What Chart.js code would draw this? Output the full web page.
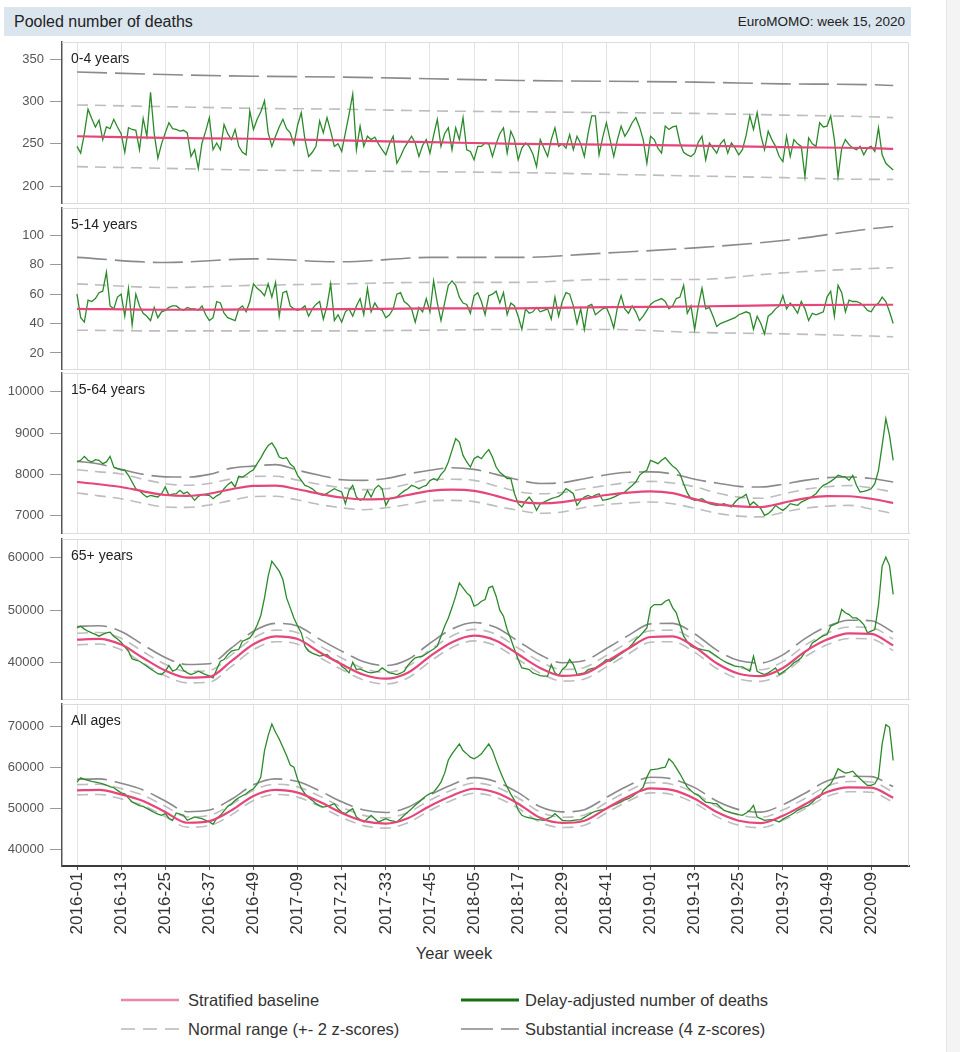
<!DOCTYPE html>
<html>
<head>
<meta charset="utf-8">
<title>Pooled number of deaths</title>
<script src="https://cdn.jsdelivr.net/npm/chart.js@4.4.1/dist/chart.umd.min.js"></script>
<style>
  html, body { margin: 0; padding: 0; background: #fff; }
  body { font-family: "Liberation Sans", Arial, sans-serif; color: #222; }
  #page { position: relative; width: 960px; height: 1052px; overflow: hidden; }
  .abs { position: absolute; white-space: nowrap; }
  #titlebar { left: 4px; top: 7px; width: 907px; height: 29px; background: #dbe5ee; }
  #title { left: 10px; top: 0; line-height: 29px; font-size: 16px; color: #222; }
  #source { right: 6px; top: 0; line-height: 29px; font-size: 13.5px; color: #222; }
  .plabel { font-size: 14px; line-height: 16px; color: #222; left: 71px; }
  #xtitle { left: 354px; width: 200px; top: 943px; line-height: 20px; font-size: 16.5px; text-align: center; color: #333; }
  .leg { font-size: 16.5px; line-height: 20px; color: #333; }
  .legline { position: absolute; }
  #stripe { left: 946px; top: 0; width: 14px; height: 1052px; background: #f4f4f4; border-left: 1px solid #e4e4e4; }
  canvas { position: absolute; left: 0; }
</style>
</head>
<body>
<div id="page">
  <div id="titlebar" class="abs">
    <div id="title" class="abs">Pooled number of deaths</div>
    <div id="source" class="abs">EuroMOMO: week 15, 2020</div>
  </div>
  <div id="xtitle" class="abs">Year week</div>

  <svg class="legline" style="left:121px;top:995px" width="58" height="10"><line x1="0" y1="5" x2="58" y2="5" stroke="#ec86a6" stroke-width="2.5"/></svg>
  <div class="abs leg" style="left:188px;top:990px">Stratified baseline</div>
  <svg class="legline" style="left:461px;top:995px" width="58" height="10"><line x1="0" y1="5" x2="58" y2="5" stroke="#157015" stroke-width="3"/></svg>
  <div class="abs leg" style="left:525px;top:990px">Delay-adjusted number of deaths</div>
  <svg class="legline" style="left:121px;top:1024px" width="58" height="10"><line x1="0" y1="5" x2="58" y2="5" stroke="#b8b8b8" stroke-width="1.5" stroke-dasharray="14 8"/></svg>
  <div class="abs leg" style="left:188px;top:1019px">Normal range (+- 2 z-scores)</div>
  <svg class="legline" style="left:461px;top:1024px" width="58" height="10"><line x1="0" y1="5" x2="58" y2="5" stroke="#888" stroke-width="1.5" stroke-dasharray="32 8 18 0"/></svg>
  <div class="abs leg" style="left:525px;top:1019px">Substantial increase (4 z-scores)</div>

  <div id="stripe" class="abs"></div>
</div>

<script>
"use strict";

// x axis: week index 0 = 2016-01 ... 222 = 2020-15
const tickWeeks = [0, 12, 24, 36, 48, 60, 72, 84, 96, 108, 120, 132, 144, 156, 168, 180, 192, 204, 216];
const tickLabels = ['2016-01', '2016-13', '2016-25', '2016-37', '2016-49', '2017-09', '2017-21', '2017-33',
    '2017-45', '2018-05', '2018-17', '2018-29', '2018-41', '2019-01', '2019-13', '2019-25', '2019-37',
    '2019-49', '2020-09'];

const flatWeeks = [0, 24, 48, 72, 96, 120, 144, 168, 192, 216, 222];
const seasonWeeks = [0, 6, 12, 18, 24, 30, 36, 42, 48, 54, 60, 66, 72, 78, 84, 90, 96, 102, 108, 114, 120,
    126, 132, 138, 144, 150, 156, 162, 168, 174, 180, 186, 192, 198, 204, 210, 216, 222];

// y ticks
const yTicks0to4 = [200, 250, 300, 350];
const yTicks5to14 = [20, 40, 60, 80, 100];
const yTicks15to64 = [7000, 8000, 9000, 10000];
const yTicks65plus = [40000, 50000, 60000];
const yTicksAll = [40000, 50000, 60000, 70000];

// 0-4 years
const deaths0to4 = [
    247, 239, 262, 291, 280, 270, 278, 255, 270, 268,
    279, 270, 262, 240, 269, 267, 266, 243, 280, 259,
    311, 262, 233, 250, 263, 275, 268, 267, 265, 266,
    263, 235, 243, 221, 251, 265, 281, 243, 251, 243,
    273, 262, 255, 267, 247, 240, 237, 289, 267, 279,
    288, 301, 263, 247, 259, 270, 279, 268, 263, 249,
    272, 287, 255, 235, 240, 247, 277, 263, 281, 265,
    247, 250, 241, 263, 285, 309, 243, 271, 247, 259,
    255, 258, 250, 243, 237, 250, 259, 227, 235, 245,
    252, 259, 251, 235, 248, 255, 239, 260, 279, 247,
    262, 269, 243, 269, 255, 281, 243, 241, 231, 247,
    247, 251, 250, 235, 250, 262, 269, 239, 265, 255,
    231, 245, 251, 247, 238, 223, 255, 245, 235, 255,
    269, 247, 250, 245, 261, 243, 259, 250, 235, 262,
    283, 283, 237, 258, 275, 255, 235, 255, 271, 259,
    266, 275, 281, 270, 255, 227, 259, 255, 245, 239,
    271, 267, 270, 271, 251, 240, 237, 235, 239, 252,
    259, 231, 251, 245, 239, 250, 255, 239, 251, 245,
    237, 243, 260, 283, 267, 287, 260, 243, 265, 255,
    247, 235, 229, 259, 235, 255, 250, 247, 211, 257,
    250, 247, 275, 270, 271, 283, 255, 211, 245, 255,
    249, 245, 243, 247, 237, 245, 247, 241, 269, 237,
    227, 223, 219];
const base0to4 = [259, 257, 256, 254, 252, 250, 249, 248, 246, 245, 244];
const normHi0to4 = [296, 294, 292, 291, 289, 288, 287, 286, 284, 282, 281];
const normLo0to4 = [223, 221, 219, 218, 217, 216, 214, 212, 210, 208, 208];
const subst0to4 = [335, 332, 330, 329, 327, 325, 324, 323, 321, 320, 319];

// 5-14 years
const deaths5to14 = [
    60, 44, 41, 56, 55, 57, 61, 62, 75, 52,
    50, 58, 60, 45, 64, 39, 60, 52, 47, 45,
    42, 51, 44, 48, 49, 51, 52, 52, 50, 49,
    51, 50, 50, 49, 52, 46, 42, 44, 55, 54,
    47, 44, 43, 42, 50, 52, 48, 55, 67, 64,
    62, 59, 67, 58, 68, 45, 61, 62, 52, 50,
    49, 50, 52, 45, 50, 53, 55, 43, 52, 67,
    42, 46, 41, 48, 50, 45, 52, 57, 46, 64,
    48, 54, 50, 49, 44, 46, 50, 60, 61, 55,
    53, 50, 41, 51, 48, 57, 48, 69, 54, 42,
    54, 66, 69, 66, 58, 54, 53, 47, 59, 61,
    55, 46, 59, 60, 62, 54, 61, 46, 54, 52,
    45, 36, 50, 47, 48, 51, 48, 49, 50, 43,
    58, 45, 55, 61, 60, 52, 40, 50, 36, 52,
    53, 46, 48, 50, 51, 45, 37, 51, 59, 50,
    47, 52, 48, 42, 45, 49, 53, 55, 56, 57,
    55, 50, 52, 57, 58, 66, 47, 52, 36, 52,
    64, 50, 51, 45, 38, 40, 41, 42, 43, 44,
    46, 47, 48, 47, 36, 45, 40, 33, 45, 47,
    50, 52, 59, 50, 54, 51, 47, 55, 50, 42,
    47, 46, 47, 48, 58, 62, 45, 66, 61, 48,
    56, 55, 55, 54, 52, 49, 48, 52, 54, 58,
    55, 48, 40];
const base5to14 = [50, 49.4, 49.6, 49.8, 50.3, 50.4, 51.2, 51.6, 52.5, 52.8, 52.8];
const normHi5to14 = [67, 64.5, 66, 67, 68, 68, 70, 70, 74.5, 77.5, 78];
const normLo5to14 = [35.5, 35, 35, 35, 35.5, 36, 36, 34, 33, 31.5, 31];
const subst5to14 = [85, 81.5, 84, 82, 85, 85, 88, 91.5, 96.5, 104.5, 106];

// 15-64 years
const deaths15to64 = [
    8298, 8339, 8435, 8340, 8298, 8355, 8339, 8258, 8300, 8435,
    8177, 8137, 8110, 8097, 7976, 7815, 7653, 7600, 7520, 7452,
    7492, 7470, 7452, 7532, 7694, 7492, 7520, 7532, 7613, 7532,
    7573, 7480, 7371, 7468, 7516, 7500, 7492, 7411, 7480, 7532,
    7653, 7750, 7815, 7694, 7952, 7935, 7990, 8056, 8113, 8258,
    8400, 8560, 8701, 8758, 8621, 8419, 8379, 8403, 8250, 8177,
    7976, 7855, 7734, 7700, 7650, 7573, 7516, 7492, 7540, 7597,
    7653, 7610, 7573, 7291, 7613, 7734, 7450, 7371, 7411, 7613,
    7452, 7650, 7734, 7650, 7250, 7411, 7430, 7452, 7532, 7600,
    7653, 7734, 7700, 7653, 7700, 7734, 7850, 7895, 7855, 8000,
    8097, 8298, 8580, 8862, 8782, 8459, 8300, 8177, 8379, 8435,
    8379, 8500, 8597, 8419, 8177, 8050, 7976, 7895, 7895, 7532,
    7291, 7210, 7350, 7452, 7331, 7129, 7291, 7331, 7370, 7411,
    7440, 7468, 7532, 7653, 7600, 7532, 7250, 7371, 7450, 7492,
    7452, 7500, 7532, 7371, 7390, 7411, 7450, 7492, 7540, 7573,
    7653, 7730, 7815, 7976, 8050, 8097, 8339, 8300, 8258, 8339,
    8403, 8298, 8200, 8137, 8016, 7774, 7550, 7411, 7371, 7390,
    7411, 7350, 7291, 7270, 7250, 7270, 7291, 7250, 7210, 7331,
    7420, 7452, 7516, 7250, 7331, 7250, 7170, 7009, 7050, 7129,
    7250, 7180, 7129, 7200, 7291, 7270, 7250, 7330, 7371, 7411,
    7470, 7532, 7650, 7734, 7774, 7830, 7895, 7976, 7950, 7935,
    7855, 7976, 7734, 7573, 7590, 7613, 7650, 7774, 8097, 8701,
    9346, 8943, 8339];
const base15to64 = [7815, 7760, 7694, 7590, 7500, 7480, 7530, 7640, 7720, 7726, 7640, 7530, 7440, 7395,
    7405, 7500, 7600, 7630, 7600, 7480, 7340, 7300, 7330, 7410, 7500, 7560, 7590, 7545, 7400, 7280, 7225,
    7210, 7310, 7420, 7475, 7470, 7410, 7307];
const normHi15to64 = [8110, 8060, 8010, 7880, 7775, 7735, 7780, 7890, 7950, 7955, 7860, 7760, 7680, 7630,
    7650, 7760, 7880, 7880, 7855, 7720, 7580, 7530, 7560, 7650, 7730, 7800, 7830, 7790, 7700, 7550, 7450,
    7420, 7520, 7640, 7700, 7730, 7670, 7573];
const normLo15to64 = [7550, 7480, 7410, 7300, 7210, 7200, 7260, 7370, 7465, 7470, 7380, 7270, 7190, 7145,
    7190, 7270, 7360, 7370, 7340, 7230, 7130, 7060, 7090, 7200, 7270, 7310, 7330, 7290, 7180, 7060, 6990,
    6970, 7080, 7180, 7230, 7250, 7160, 7050];
const subst15to64 = [8320, 8250, 8120, 8000, 7940, 7935, 8000, 8150, 8200, 8235, 8100, 7980, 7870, 7855,
    7900, 8010, 8100, 8160, 8120, 8000, 7870, 7780, 7800, 7895, 7990, 8050, 8060, 8010, 7880, 7790, 7710,
    7694, 7760, 7855, 7920, 7935, 7900, 7815];

// 65+ years
const deaths65plus = [
    46630, 46950, 46400, 46000, 45680, 45400, 45050, 45400, 45680, 45810,
    45050, 44500, 43900, 43000, 42190, 40730, 40500, 40280, 39800, 39330,
    38800, 38380, 37900, 37740, 38380, 39460, 38380, 38700, 39650, 38500,
    38060, 37740, 38000, 38380, 38060, 37740, 37500, 37110, 38700, 40280,
    40600, 41550, 42190, 42400, 42510, 44100, 44400, 44730, 45680, 47200,
    49000, 52350, 56480, 59330, 58380, 57430, 55840, 52350, 50440, 48500,
    47000, 45680, 43140, 42190, 41800, 41550, 41240, 41400, 41550, 40920,
    40500, 40280, 39330, 38800, 38060, 40090, 38700, 38820, 38500, 38190,
    38060, 38200, 38380, 39010, 38500, 38060, 37900, 37740, 38000, 38380,
    39500, 40280, 40920, 41100, 41240, 41700, 42190, 42600, 43140, 45050,
    46950, 48500, 50500, 52670, 55210, 54260, 53300, 52670, 50760, 51080,
    51710, 52030, 54260, 54580, 52670, 50000, 48860, 46320, 44500, 42500,
    40600, 39010, 38850, 38700, 38060, 37800, 37550, 37450, 37430, 39650,
    38060, 37550, 38700, 39330, 40600, 39650, 37740, 37900, 38060, 38700,
    38850, 39010, 39500, 40000, 40600, 40280, 40700, 41240, 41700, 42190,
    42820, 43500, 44410, 45050, 45800, 46630, 50440, 51080, 51080, 51080,
    51710, 52030, 50500, 49490, 47270, 45050, 44000, 43140, 42820, 42700,
    42510, 42350, 42190, 41700, 41240, 40700, 40280, 39900, 39650, 39330,
    39250, 39200, 38800, 38380, 41240, 38380, 38000, 37740, 38060, 38500,
    39010, 37740, 38200, 38700, 39300, 40000, 40400, 40920, 42000, 42510,
    43780, 44200, 44730, 45100, 45370, 46950, 47300, 47590, 50130, 49500,
    49170, 48540, 48540, 48000, 47270, 45680, 46000, 46320, 51000, 58400,
    60100, 58500, 53000];
const base65plus = [44400, 44550, 43460, 40900, 38500, 37150, 37300, 40300, 43500, 45000, 44500, 42000,
    39700, 37700, 36950, 38100, 41200, 43900, 45150, 44200, 41600, 39000, 37500, 37900, 40200, 42700, 44900,
    45000, 43000, 39900, 37900, 37450, 39000, 42100, 44400, 45600, 45500, 43300];
const normHi65plus = [45600, 45750, 44660, 42100, 39700, 38350, 38500, 41500, 44700, 46200, 45700, 43200,
    40900, 38900, 38150, 39300, 42400, 45100, 46350, 45400, 42800, 40200, 38700, 39100, 41400, 43900, 46100,
    46200, 44200, 41100, 39100, 38650, 40200, 43300, 45600, 46800, 46700, 44500];
const normLo65plus = [43400, 43550, 42460, 39900, 37500, 36150, 36300, 39300, 42500, 44000, 43500, 41000,
    38700, 36700, 35950, 37100, 40200, 42900, 44150, 43200, 40600, 38000, 36500, 36900, 39200, 41700, 43900,
    44000, 42000, 38900, 36900, 36450, 38000, 41100, 43400, 44600, 44500, 42300];
const subst65plus = [46900, 47050, 45960, 43400, 41000, 39650, 39800, 42800, 46000, 47500, 47000, 44500,
    42200, 40200, 39450, 40600, 43700, 46400, 47650, 46700, 44100, 41500, 40000, 40400, 42700, 45200, 47400,
    47500, 45500, 42400, 40400, 39950, 41500, 44600, 46900, 48100, 48000, 45800];

// All ages
const deathsAll = [
    56320, 57370, 57000, 56720, 56500, 56320, 56100, 55910, 55600, 55200,
    54940, 54300, 53700, 53480, 52400, 51460, 51000, 50600, 50400, 49900,
    49430, 48900, 48500, 48220, 48620, 47500, 47000, 48780, 48500, 48220,
    47000, 47400, 47810, 47600, 47410, 47000, 46600, 46030, 47500, 48220,
    49300, 50400, 51000, 51860, 52500, 53000, 53480, 54200, 54700, 55800,
    57530, 64010, 67660, 70490, 68470, 66850, 64800, 62800, 60500, 59960,
    57000, 54800, 53480, 52500, 51860, 51050, 50600, 50240, 50400, 50700,
    51050, 49800, 49000, 48620, 49300, 49840, 47810, 47200, 46600, 47400,
    48220, 47400, 46600, 47000, 47410, 47000, 46800, 46600, 47400, 48220,
    49000, 49800, 50650, 51400, 52270, 53000, 53500, 53890, 55000, 56320,
    58500, 61700, 63200, 64400, 65630, 64010, 63200, 62400, 61990, 62500,
    63200, 64400, 65630, 64010, 61500, 59150, 57000, 55100, 53400, 51860,
    49500, 48220, 47810, 47600, 47410, 47200, 47100, 47000, 47400, 47810,
    48620, 47800, 47000, 46900, 46840, 47000, 47100, 47160, 47700, 48220,
    48800, 49200, 49430, 49600, 49840, 50300, 50700, 51050, 51500, 52000,
    52270, 52800, 53480, 54200, 55100, 57530, 59320, 59400, 59560, 59800,
    59960, 61990, 61180, 59800, 58340, 56700, 55100, 54200, 53500, 53080,
    52200, 51460, 51300, 51150, 51050, 50200, 49430, 49100, 48800, 48620,
    48400, 48220, 48800, 49430, 50650, 47810, 47400, 47000, 47100, 47160,
    46900, 46600, 47300, 47800, 48220, 48800, 49430, 49900, 50300, 50650,
    51400, 52300, 52670, 54290, 55100, 55910, 57530, 59560, 59000, 58500,
    58700, 58990, 58000, 57130, 56300, 55510, 55510, 55900, 57500, 65630,
    70330, 69680, 61580];
const baseAll = [54300, 54400, 53320, 51700, 49030, 46400, 46800, 49430, 52950, 54400, 53750, 51500, 48800,
    46800, 46200, 47500, 50500, 53000, 54700, 53700, 51050, 47600, 46360, 46900, 49900, 52800, 54800, 54350,
    52270, 49000, 46900, 46300, 48100, 50900, 53890, 55050, 54950, 52520];
const normHiAll = [55700, 55800, 54720, 53100, 50430, 47800, 48200, 50830, 54350, 55800, 55150, 52900, 50200,
    48200, 47600, 48900, 51900, 54400, 56100, 55100, 52450, 49000, 47760, 48300, 51300, 54200, 56200, 55750,
    53670, 50400, 48300, 47700, 49500, 52300, 55290, 56450, 56350, 53920];
const normLoAll = [53200, 53300, 52220, 50600, 47930, 45300, 45700, 48330, 51850, 53300, 52650, 50400, 47700,
    45700, 45100, 46400, 49400, 51900, 53600, 52600, 49950, 46500, 45260, 45800, 48800, 51700, 53700, 53250,
    51170, 47900, 45800, 45200, 47000, 49800, 52790, 53950, 53850, 51420];
const substAll = [57000, 57100, 56020, 54400, 51730, 49100, 49500, 52130, 55650, 57100, 56450, 54200, 51500,
    49500, 48900, 50200, 53200, 55700, 57400, 56400, 53750, 50300, 49060, 49600, 52600, 55500, 57500, 57050,
    54970, 51700, 49600, 49000, 50800, 53600, 56590, 57750, 57650, 55220];

const FONT = '"Liberation Sans", Arial, sans-serif';
const X_MIN = -4.08;
const X_MAX = 226.3;
const AXIS_W = 62;
const RIGHT = 909;

const panels = [
    { label: '0-4 years', top: 42, bottom: 203, min: 180, max: 370.5, yTicks: yTicks0to4, weeks: flatWeeks,
        deaths: deaths0to4, base: base0to4, hi: normHi0to4, lo: normLo0to4, z4: subst0to4 },
    { label: '5-14 years', top: 208, bottom: 369, min: 9.1, max: 118.6, yTicks: yTicks5to14, weeks: flatWeeks,
        deaths: deaths5to14, base: base5to14, hi: normHi5to14, lo: normLo5to14, z4: subst5to14 },
    { label: '15-64 years', top: 373, bottom: 533, min: 6581, max: 10452, yTicks: yTicks15to64, weeks: seasonWeeks,
        deaths: deaths15to64, base: base15to64, hi: normHi15to64, lo: normLo15to64, z4: subst15to64 },
    { label: '65+ years', top: 539, bottom: 699, min: 33086, max: 63562, yTicks: yTicks65plus, weeks: seasonWeeks,
        deaths: deaths65plus, base: base65plus, hi: normHi65plus, lo: normLo65plus, z4: subst65plus },
    { label: 'All ages', top: 704, bottom: 866, min: 35854, max: 75366, yTicks: yTicksAll, weeks: seasonWeeks,
        deaths: deathsAll, base: baseAll, hi: normHiAll, lo: normLoAll, z4: substAll }
];

/**
 * light grey frame along top and right of the plot area
 */
const framePlugin = {
    id: 'frame',
    beforeDatasetsDraw(chart) {
        const { ctx, chartArea: a } = chart;
        ctx.save();
        ctx.strokeStyle = '#dcdcdc';
        ctx.lineWidth = 1;
        ctx.beginPath();
        ctx.moveTo(a.left, a.top + 0.5);
        ctx.lineTo(a.right - 0.5, a.top + 0.5);
        ctx.lineTo(a.right - 0.5, a.bottom);
        ctx.stroke();
        ctx.restore();
    }
};

function pairs(weeks, values) {
    return values.map((v, i) => ({ x: weeks[i], y: v }));
}

function lineSet(label, data, color, width, dash) {
    return {
        label: label,
        data: data,
        borderColor: color,
        borderWidth: width,
        borderDash: dash,
        pointRadius: 0,
        fill: false,
        cubicInterpolationMode: 'monotone'
    };
}

function createPanel(p, isLast) {
    const page = document.getElementById('page');

    const lab = document.createElement('div');
    lab.className = 'abs plabel';
    lab.style.top = (p.top + 8) + 'px';
    lab.textContent = p.label;

    const canvas = document.createElement('canvas');
    const h = (p.bottom - p.top) + 1 + (isLast ? 100 : 1);
    canvas.width = RIGHT + 2;
    canvas.height = h;
    canvas.style.width = (RIGHT + 2) + 'px';
    canvas.style.height = h + 'px';
    canvas.style.top = (p.top - 1) + 'px';
    page.appendChild(canvas);
    page.appendChild(lab);

    new Chart(canvas.getContext('2d'), {
        type: 'line',
        data: {
            datasets: [
                lineSet('Stratified baseline', pairs(p.weeks, p.base), '#e6457a', 2.2, []),
                {
                    label: 'Delay-adjusted number of deaths',
                    data: p.deaths.map((v, i) => ({ x: i, y: v })),
                    borderColor: '#2a8a2a',
                    borderWidth: 1.3,
                    pointRadius: 0,
                    fill: false,
                    tension: 0
                },
                lineSet('Normal range (+- 2 z-scores)', pairs(p.weeks, p.lo), '#bdbdbd', 1.6, [11, 7]),
                lineSet('Normal range (+- 2 z-scores)', pairs(p.weeks, p.hi), '#bdbdbd', 1.6, [11, 7]),
                lineSet('Substantial increase (4 z-scores)', pairs(p.weeks, p.z4), '#8a8a8a', 1.6, [30, 8])
            ]
        },
        options: {
            responsive: false,
            animation: false,
            layout: { padding: { top: 1, right: 2, bottom: isLast ? 0 : 1, left: 0 } },
            plugins: { legend: { display: false }, tooltip: { enabled: false } },
            scales: {
                x: {
                    type: 'linear',
                    min: X_MIN,
                    max: X_MAX,
                    afterBuildTicks: s => { s.ticks = tickWeeks.map(v => ({ value: v })); },
                    afterFit: s => { s.height = isLast ? 100 : 0; s.paddingLeft = 0; s.paddingRight = 0; },
                    grid: { color: '#e3e3e3', lineWidth: 1, drawTicks: isLast, tickLength: 4, tickColor: '#555' },
                    border: { color: isLast ? '#3a3a3a' : '#dcdcdc', width: isLast ? 2 : 1 },
                    ticks: {
                        display: isLast,
                        autoSkip: false,
                        maxRotation: 90,
                        minRotation: 90,
                        padding: 2,
                        color: '#333',
                        font: { family: FONT, size: 17 },
                        callback: (v, i) => tickLabels[i]
                    }
                },
                y: {
                    min: p.min,
                    max: p.max,
                    afterBuildTicks: s => { s.ticks = p.yTicks.map(v => ({ value: v })); },
                    afterFit: s => { s.width = AXIS_W; s.paddingTop = 0; s.paddingBottom = 0; },
                    grid: { drawOnChartArea: false, drawTicks: true, tickLength: 12, color: '#9a9a9a' },
                    border: { color: '#555', width: 1.5 },
                    ticks: {
                        padding: 6,
                        color: '#555',
                        font: { family: FONT, size: 13 },
                        callback: v => String(v)
                    }
                }
            }
        },
        plugins: [framePlugin]
    });
}

window.onload = () => {
    panels.forEach((p, i) => createPanel(p, i === panels.length - 1));
};
</script>
</body>
</html>
